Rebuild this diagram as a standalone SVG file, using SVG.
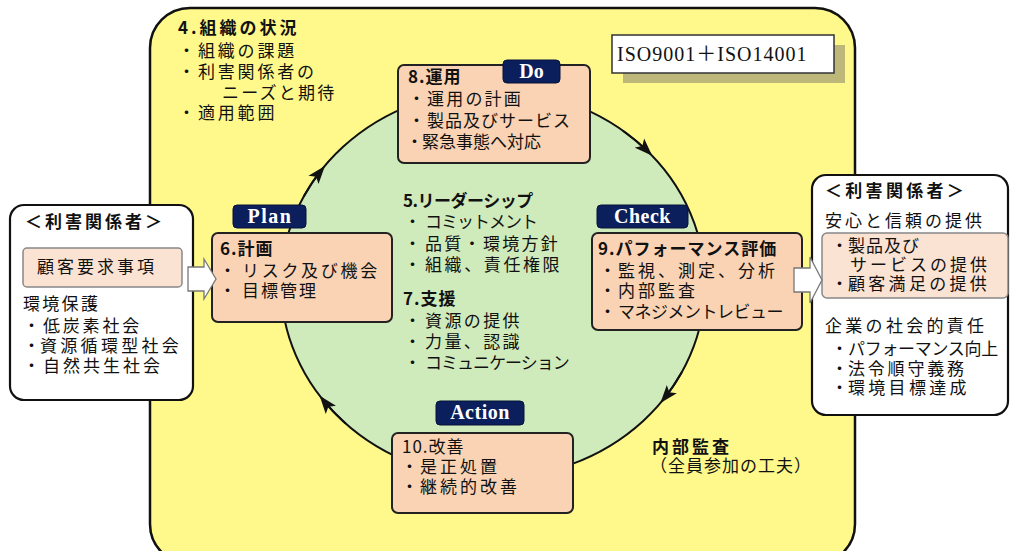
<svg xmlns="http://www.w3.org/2000/svg" width="1013" height="551" viewBox="0 0 1013 551">
<style>
.t{font-family:"Noto Sans CJK JP","Noto Sans",sans-serif;font-size:17px;fill:#111}
.b{font-weight:bold}
.lab{font-family:"Liberation Serif",serif;font-weight:bold;font-size:20px;fill:#fff;text-anchor:middle}
.box{fill:#F9D3B4;stroke:#222;stroke-width:2}
.wbox{fill:#fff;stroke:#111;stroke-width:2.2}
.ibox{fill:#FBE3D4;stroke:#888;stroke-width:1.5}
.nav{fill:#0A1F5C;stroke:#061338;stroke-width:1}
.arc{fill:none;stroke:#111;stroke-width:2;marker-end:url(#ah)}
.blk{fill:#fff;stroke:#777;stroke-width:1.3}
</style>
<defs>
<marker id="ah" markerUnits="userSpaceOnUse" markerWidth="18" markerHeight="14" refX="15" refY="7" orient="auto">
<path d="M0,0.5 L18,7 L0,13.5 L4,7 z" fill="#111"/>
</marker>
</defs>
<rect width="1013" height="551" fill="#fff"/>
<g id="frame">
<rect x="150" y="8" width="705" height="556" rx="40" fill="#FFF98B" stroke="#111" stroke-width="2.5"/>
</g>
<g id="cycle">
<ellipse cx="493" cy="284" rx="212" ry="194" fill="#D0EBBB" stroke="#111" stroke-width="2"/>
</g>
<g id="context">
<text class="t b" x="178" y="34" letter-spacing="3">4.組織の状況</text>
<text class="t" x="178" y="57">・<tspan x="198" letter-spacing="2.8">組織の課題</tspan></text>
<text class="t" x="178" y="78">・<tspan x="198" letter-spacing="2.8">利害関係者の</tspan></text>
<text class="t" x="222" y="99" letter-spacing="2.2">ニーズと期待</text>
<text class="t" x="178" y="119">・<tspan x="198" letter-spacing="2.8">適用範囲</tspan></text>
</g>
<g id="iso">
<rect x="623" y="45" width="222" height="38" fill="#BDB87A"/>
<rect x="612" y="35" width="222" height="38" fill="#fff" stroke="#333" stroke-width="1.5"/>
<text x="617" y="61" font-family="Liberation Serif,'Noto Sans CJK JP',serif" font-size="20" letter-spacing="1" fill="#111">ISO9001＋ISO14001</text>
</g>
<g id="do">
<rect class="box" x="398" y="65" width="192" height="98" rx="6"/>
<rect class="nav" x="503" y="60" width="57" height="23" rx="4"/>
<text class="lab" x="531.5" y="78">Do</text>
<text class="t b" x="408" y="83" letter-spacing="1">8.運用</text>
<text class="t" x="408" y="105">・<tspan x="427" letter-spacing="2.2">運用の計画</tspan></text>
<text class="t" x="408" y="127">・<tspan x="427" letter-spacing="1">製品及びサービス</tspan></text>
<text class="t" x="406" y="148">・<tspan x="422" letter-spacing="0">緊急事態へ対応</tspan></text>
</g>
<g id="plan">
<rect class="box" x="212" y="233" width="180" height="89" rx="6"/>
<rect class="nav" x="233" y="205" width="73" height="23" rx="4"/>
<text class="lab" x="270" y="223" letter-spacing="1.5">Plan</text>
<text class="t b" x="220" y="255" letter-spacing="1">6.計画</text>
<text class="t" x="219" y="277">・<tspan x="242" letter-spacing="2.7">リスク及び機会</tspan></text>
<text class="t" x="219" y="297">・<tspan x="242" letter-spacing="2">目標管理</tspan></text>
</g>
<g id="check">
<rect class="box" x="592" y="233" width="210" height="97" rx="6"/>
<rect class="nav" x="597" y="205" width="91" height="23" rx="4"/>
<text class="lab" x="642.5" y="223" letter-spacing="0.5">Check</text>
<text class="t b" x="598" y="255" letter-spacing="1">9.パフォーマンス評価</text>
<text class="t" x="599" y="277">・<tspan x="618" letter-spacing="3">監視、測定、分析</tspan></text>
<text class="t" x="599" y="297">・<tspan x="618" letter-spacing="3">内部監査</tspan></text>
<text class="t" x="599" y="318">・<tspan x="618" letter-spacing="-0.5">マネジメントレビュー</tspan></text>
</g>
<g id="center">
<text class="t b" x="403" y="207" letter-spacing="-0.5">5.リーダーシップ</text>
<text class="t" x="404" y="228">・<tspan x="425" letter-spacing="-1">コミットメント</tspan></text>
<text class="t" x="404" y="250">・<tspan x="425" letter-spacing="2.3">品質・環境方針</tspan></text>
<text class="t" x="404" y="271">・<tspan x="425" letter-spacing="2.6">組織、責任権限</tspan></text>
<text class="t b" x="403" y="305" letter-spacing="1">7.支援</text>
<text class="t" x="404" y="327">・<tspan x="425" letter-spacing="2.4">資源の提供</tspan></text>
<text class="t" x="404" y="348">・<tspan x="425" letter-spacing="2.4">力量、認識</tspan></text>
<text class="t" x="404" y="369">・<tspan x="425" letter-spacing="-1">コミュニケーション</tspan></text>
</g>
<g id="action">
<rect class="box" x="392" y="433" width="181" height="80" rx="6"/>
<rect class="nav" x="436" y="401" width="88" height="24" rx="4"/>
<text class="lab" x="480" y="419" letter-spacing="0.5">Action</text>
<text class="t" x="402" y="453" letter-spacing="1">10.改善</text>
<text class="t" x="401" y="473">・<tspan x="420" letter-spacing="3">是正処置</tspan></text>
<text class="t" x="401" y="493">・<tspan x="420" letter-spacing="3">継続的改善</tspan></text>
</g>
<g id="audit">
<text class="t b" x="652" y="453" letter-spacing="3">内部監査</text>
<text class="t" x="650" y="472" letter-spacing="1">（全員参加の工夫）</text>
</g>
<g id="stakeholders-left">
<rect class="wbox" x="10" y="205" width="183" height="195" rx="14"/>
<text class="t b" x="25" y="228" letter-spacing="3">＜利害関係者＞</text>
<rect class="ibox" x="23" y="248" width="159" height="39" rx="4"/>
<text class="t" x="37" y="273" letter-spacing="3">顧客要求事項</text>
<text class="t" x="23" y="310" letter-spacing="2.3">環境保護</text>
<text class="t" x="23" y="332">・<tspan x="43" letter-spacing="2.8">低炭素社会</tspan></text>
<text class="t" x="23" y="352">・<tspan x="40" letter-spacing="3.3">資源循環型社会</tspan></text>
<text class="t" x="23" y="372">・<tspan x="43" letter-spacing="3">自然共生社会</tspan></text>
</g>
<g id="stakeholders-right">
<rect class="wbox" x="812" y="175" width="196" height="240" rx="14"/>
<text class="t b" x="825" y="197" letter-spacing="3.3">＜利害関係者＞</text>
<text class="t" x="825" y="227" letter-spacing="3">安心と信頼の提供</text>
<rect class="ibox" x="822" y="233" width="186" height="65" rx="5"/>
<text class="t" x="831" y="252">・<tspan x="848" letter-spacing="1">製品及び</tspan></text>
<text class="t" x="850" y="271" letter-spacing="3">サービスの提供</text>
<text class="t" x="831" y="290">・<tspan x="848" letter-spacing="3.3">顧客満足の提供</tspan></text>
<text class="t" x="825" y="332" letter-spacing="3.3">企業の社会的責任</text>
<text class="t" x="831" y="355">・<tspan x="848" letter-spacing="-0.3">パフォーマンス向上</tspan></text>
<text class="t" x="831" y="375">・<tspan x="848" letter-spacing="2.8">法令順守義務</tspan></text>
<text class="t" x="831" y="394">・<tspan x="848" letter-spacing="3.3">環境目標達成</tspan></text>
</g>
<g id="connectors">
<path class="arc" d="M303.6,196.8 A212,194 0 0 1 323,168.2"/>
<path class="arc" d="M622.9,130.7 A212,194 0 0 1 650.1,153.7"/>
<path class="arc" d="M681.9,372.1 A212,194 0 0 1 662.3,400.8"/>
<path class="arc" d="M345.7,423.5 A212,194 0 0 1 321.5,398.1"/>
<polygon class="blk" points="188,267 204,267 204,259 216,279 204,299 204,291 188,291"/>
<polygon class="blk" points="794,268 810,268 810,257 822,280 810,303 810,292 794,292"/>
</g>
</svg>
